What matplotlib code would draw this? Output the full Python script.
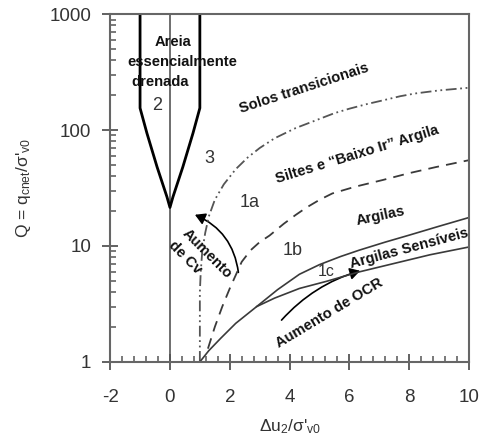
import numpy as np
import matplotlib.pyplot as plt
from matplotlib.patches import FancyArrowPatch
from matplotlib.ticker import FixedLocator, NullFormatter

plt.rcParams['font.family'] = ['Liberation Sans', 'DejaVu Sans']
plt.rcParams['mathtext.default'] = 'regular'

# fronteira da zona 2 (areia drenada)
zona2_x = [-1, -1, -0.77, -0.43, -0.1, 0, 0.1, 0.43, 0.77, 1, 1]
zona2_q = [1000, 155, 94, 48, 26.5, 21.5, 26.5, 48, 94, 155, 1000]

# limite 3 / 1a (traco-ponto-ponto)
lim3_x = [1, 1, 1, 1.03, 1.08, 1.18, 1.3, 1.5, 1.8, 2.2, 2.6, 3.0, 3.5, 4.2,
          4.9, 5.5, 6.0, 6.6, 7.1, 7.7, 8.2, 9.0, 10]
lim3_q = [1, 2, 4, 6, 9, 13, 18, 25, 34, 46, 58, 70, 85, 104,
          122, 140, 153, 168, 180, 196, 207, 220, 232]

# limite 1a / 1b (tracejado)
lim1a_x = [1.27, 1.5, 1.75, 2.0, 2.2, 2.4, 2.7, 3.0, 3.33, 3.8, 4.2, 4.57,
           5.0, 5.43, 6.2, 7.1, 8.0, 8.9, 10]
lim1a_q = [1.3, 2.0, 3.0, 4.3, 5.6, 7.3, 9.2, 10.8, 12.3, 15.5, 18.5, 21.5,
           25, 28.4, 32.5, 37, 42.5, 48, 55]

# limite 1b / 1c (linha cheia superior)
lim1b_x = [1, 1.3, 1.7, 2.2, 2.9, 3.6, 4.33, 5.0, 5.7, 6.33, 7.2, 8.0, 9.0, 10]
lim1b_q = [1, 1.25, 1.6, 2.15, 3.0, 4.2, 5.7, 6.9, 8.1, 9.2, 10.8, 12.4, 14.8, 17.6]

# limite inferior 1c (linha cheia inferior)
lim1c_x = [2.9, 3.5, 4.33, 5.23, 6.3, 7.43, 8.7, 10]
lim1c_q = [3.0, 3.55, 4.3, 4.95, 5.95, 7.0, 8.4, 9.8]

xticks = [-2, 0, 2, 4, 6, 8, 10]
yticks = [1, 10, 100, 1000]

fig = plt.figure(figsize=(4.81, 4.44), dpi=100)
ax = fig.add_axes([0.229, 0.185, 0.746, 0.783])
ax.set_yscale('log')
ax.set_xlim(-2, 10)
ax.set_ylim(1, 1000)

cor = '#3a3a3a'
ax.plot([0, 0], [1, 1000], color='#555555', lw=1.2)
ax.plot(zona2_x, zona2_q, color='black', lw=2.0)
ax.plot(lim3_x, lim3_q, color='#555555', lw=1.3, ls=(0, (6, 2, 1, 2, 1, 2)))
ax.plot(lim1a_x, lim1a_q, color=cor, lw=1.3, ls=(0, (6, 4)))
ax.plot(lim1b_x, lim1b_q, color=cor, lw=1.2)
ax.plot(lim1c_x, lim1c_q, color=cor, lw=1.2)

# setas
a1 = FancyArrowPatch((2.3, 5.6), (0.75, 19), connectionstyle='arc3,rad=0.3',
                     arrowstyle='-|>,head_length=6,head_width=3.5', color='black', lw=1.2)
ax.add_patch(a1)
a2 = FancyArrowPatch((3.67, 2.2), (6.45, 6.2), connectionstyle='arc3,rad=-0.15',
                     arrowstyle='-|>,head_length=6,head_width=3.5', color='black', lw=1.2)
ax.add_patch(a2)

# textos
b = dict(fontweight='bold', fontsize=10.6, color='#111111', ha='center', va='center')
ax.text(0.1, 574, 'Areia', **b)
ax.text(0.4, 386, 'essencialmente', **b)
ax.text(-0.33, 259, 'drenada', **b)
ax.text(4.5, 230, 'Solos transicionais', rotation=18, **b)
ax.text(6.27, 61, 'Siltes e “Baixo Ir” Argila', rotation=17, **b)
ax.text(7.03, 18.2, 'Argilas', rotation=12, **b)
ax.text(8.0, 9.6, 'Argilas Sensíveis', rotation=15, **b)
ax.text(5.33, 2.64, 'Aumento de OCR', rotation=31, **b)
ax.text(1.23, 8.5, 'Aumento', rotation=-45, **b)
ax.text(0.5, 7.9, 'de Cv', rotation=-45, **b)

n = dict(fontsize=13, color='#333333', ha='center', va='center')
ax.text(-0.43, 164, '2', **n)
ax.text(1.33, 57, '3', **n)
ax.text(2.67, 23.5, '1a', **n)
ax.text(4.1, 9.06, '1b', **n)
ax.text(5.23, 5.97, '1c', fontsize=11.5, color='#333333', ha='center', va='center')

# eixos
for s in ax.spines.values():
    s.set_color('#666666')
    s.set_linewidth(1.5)
ax.set_xticks(xticks)
ax.set_xticklabels([str(v) for v in xticks])
ax.xaxis.set_minor_locator(FixedLocator(np.arange(-2, 10.01, 0.4)))
ax.set_yticks(yticks)
ax.set_yticklabels([str(v) for v in yticks])
ax.yaxis.set_minor_formatter(NullFormatter())
ax.tick_params(which='major', direction='inout', length=11, width=1.3, color='#555555',
               labelsize=13.5, labelcolor='#333333')
ax.tick_params(axis='x', which='major', pad=14)
ax.tick_params(axis='y', which='major', pad=8)
ax.tick_params(which='minor', direction='in', length=4, width=1.1, color='#555555')

ax.set_xlabel("Δu$_2$/σ'$_{v0}$", fontsize=12.5, color='#333333', labelpad=8)
ax.set_ylabel("Q = q$_{cnet}$/σ'$_{v0}$", fontsize=12.5, color='#333333', labelpad=12)

fig.savefig('out.png', dpi=100)
